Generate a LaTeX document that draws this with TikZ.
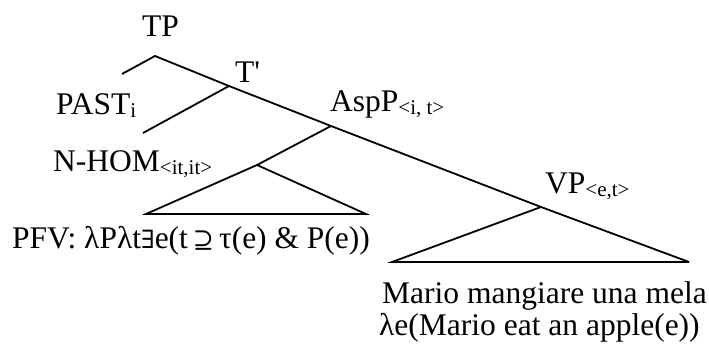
\documentclass[tikz,border=0pt]{standalone}
\usepackage{fontspec}
\setmainfont{Liberation Serif}
\newfontfamily\plainfont{Liberation Serif}
\newfontfamily\symfam[Scale=0.8]{DejaVu Serif}
\begin{document}
\begin{tikzpicture}[x=1pt,y=-1pt,
  lbl/.style={anchor=base west,inner sep=0pt,font=\fontsize{31.5}{36}\selectfont},
  branch/.style={line width=1.8pt,line join=miter}]
\useasboundingbox (0,0) rectangle (709,345);
\newcommand{\sub}[1]{\raisebox{-3pt}{\fontsize{21}{24}\selectfont #1}}
% labels
\node[lbl] (tpl) at (142,37) {TP};
\node[lbl] (tbl) at (235,82) {{\plainfont T'}};
\node[lbl] (past) at (56,114) {PAST\sub{i}};
\node[lbl] (aspl) at (330,111) {AspP\sub{<i, t>}};
\node[lbl] (nhom) at (53,171) {N-HOM\sub{<it,it>}};
\node[lbl] (pfv) at (12,248) {PFV: λPλt{\symfam ∃}e(t\kern5pt{\symfam ⊇}\kern5pt τ(e) \& P(e))};
\node[lbl] (vpl) at (545,193) {VP\sub{<e,t>}};
\node[lbl] (mario) at (382,303) {Mario mangiare una mela};
\node[lbl] (lam) at (379,335) {λe(Mario eat an apple(e))};
% tree coordinates
\coordinate (tp) at (155,56);
\coordinate (pastend) at (122,74);
\coordinate (tb) at (229,86);
\coordinate (nhomend) at (143,133);
\coordinate (asp) at (331,126);
\coordinate (pfvtop) at (257,165);
\coordinate (pfvL) at (146,214);
\coordinate (pfvR) at (366,214);
\coordinate (vp) at (541,207);
\coordinate (vpL) at (392,262);
\coordinate (vpR) at (689,262);
% branches
\draw[branch] (pastend) -- (tp) -- (tb) -- (asp) -- (vp) -- (vpR);
\draw[branch] (vpR) -- (vpL) -- (vp);
\draw[branch] (tb) -- (nhomend);
\draw[branch] (asp) -- (pfvtop);
\draw[branch] (pfvtop) -- (pfvL) -- (pfvR) -- cycle;
\end{tikzpicture}
\end{document}
